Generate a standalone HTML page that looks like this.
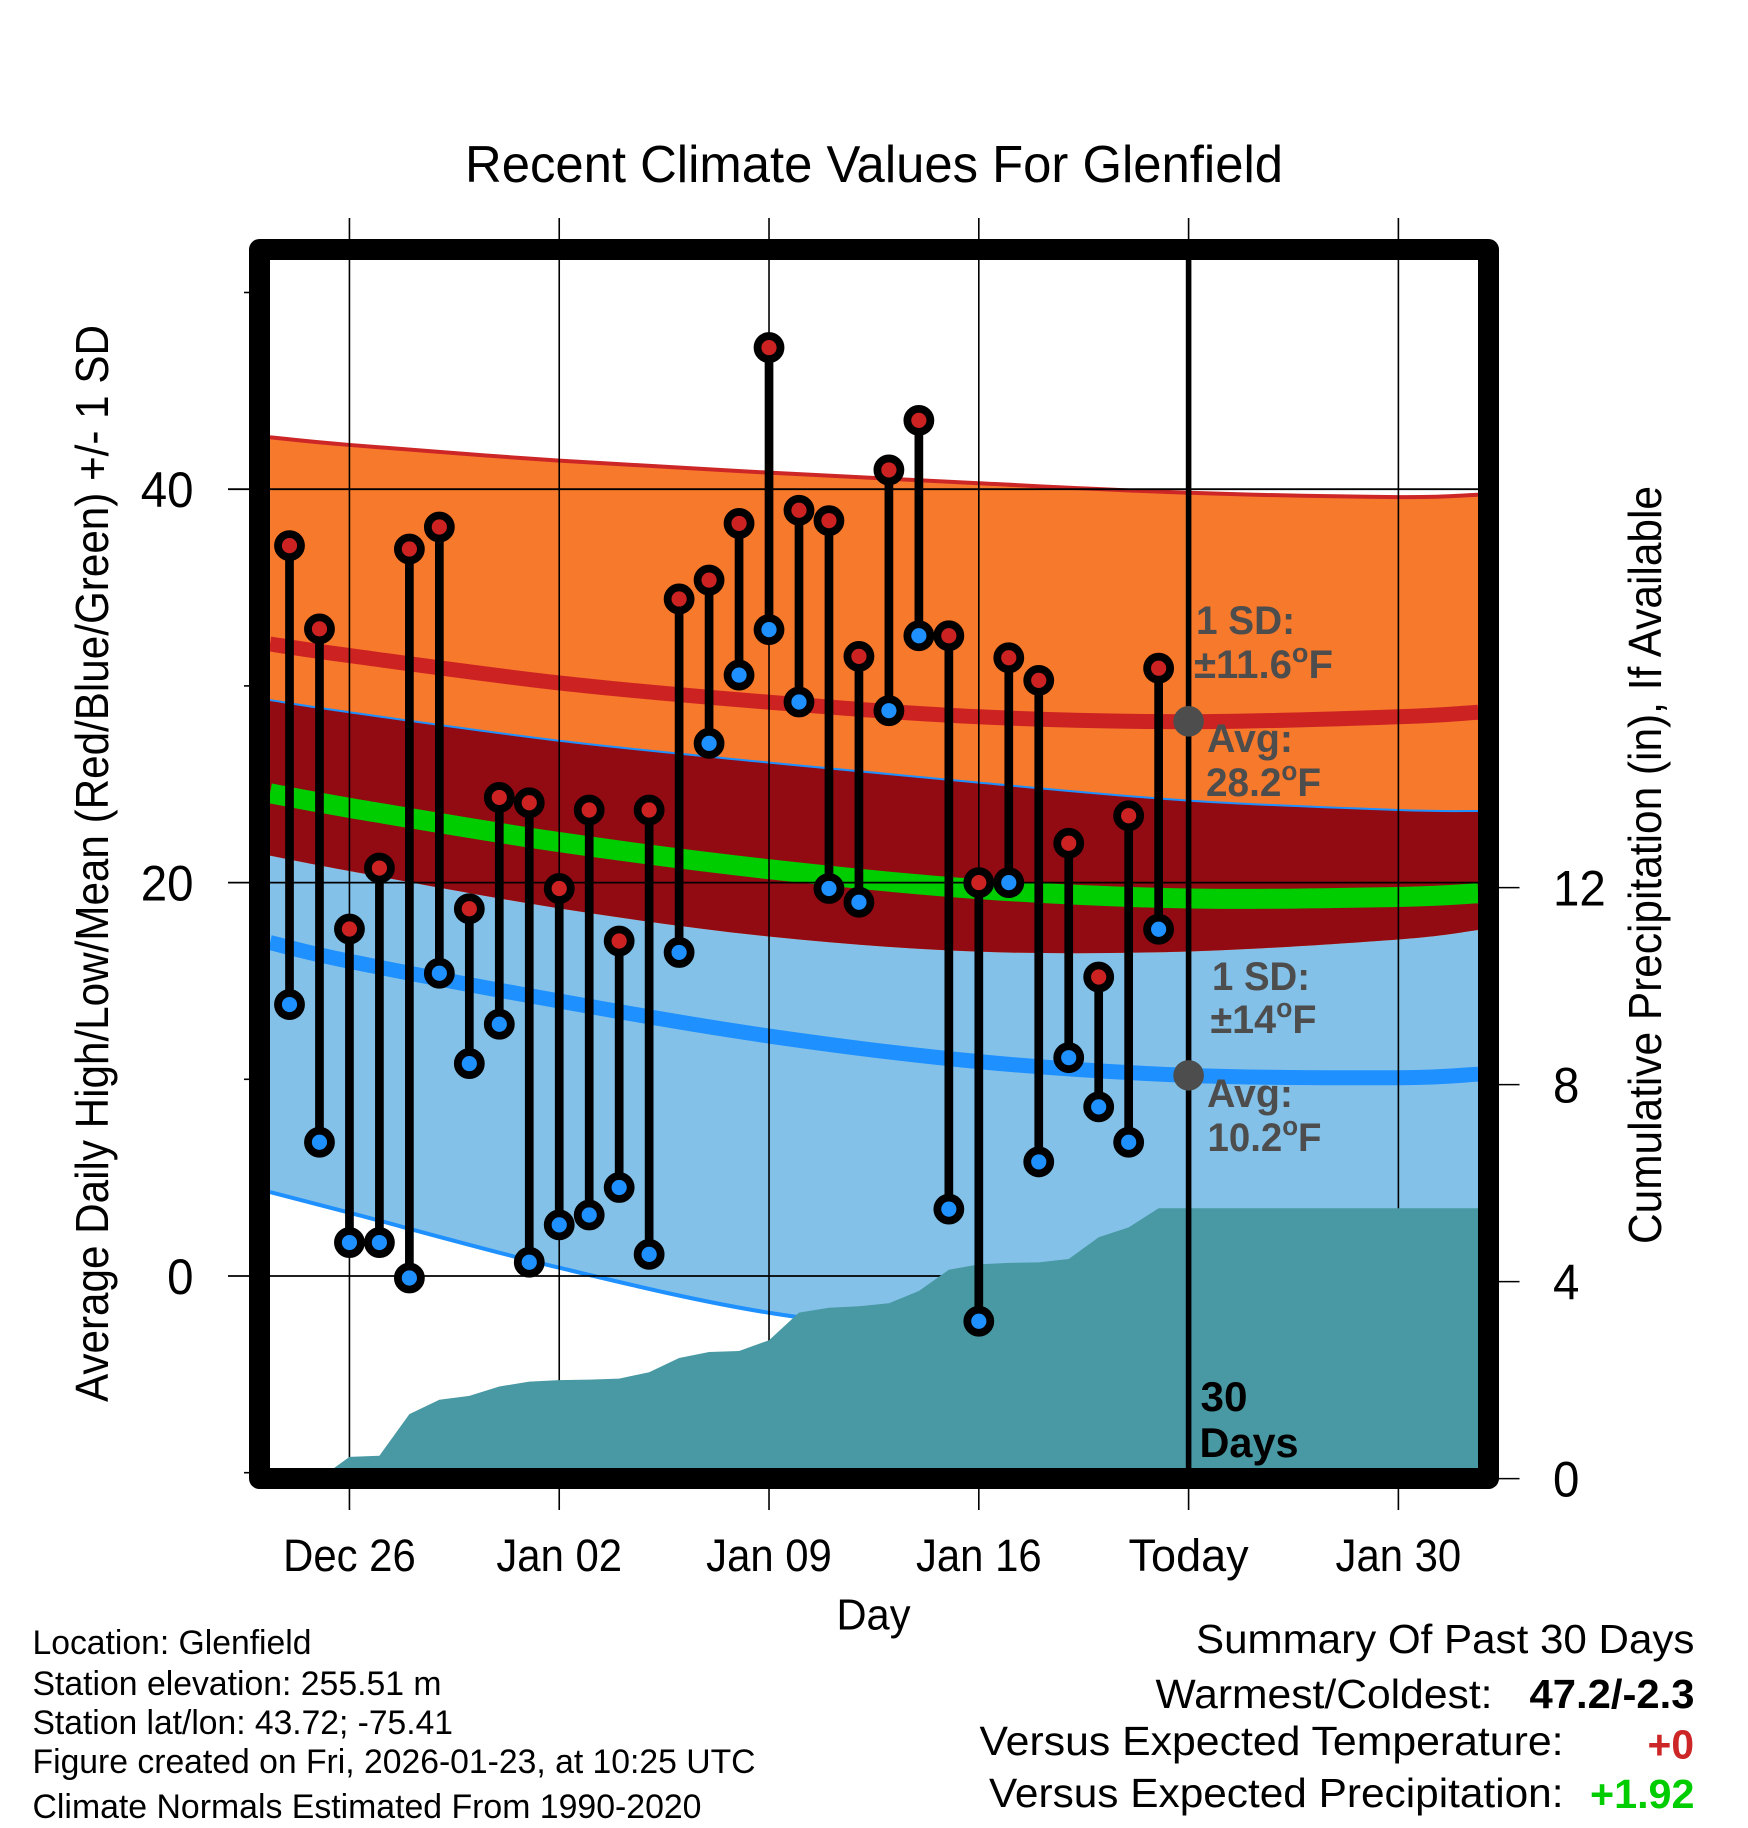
<!DOCTYPE html>
<html lang="en">
<head>
<meta charset="utf-8">
<title>Recent Climate Values For Glenfield</title>
<style>
html,body{margin:0;padding:0;background:#fff;}
svg{display:block;}
text{font-family:"Liberation Sans",Arial,sans-serif;fill:#000;}
.note{font-weight:bold;fill:#4d4d4d;font-size:40px;}
.foot{font-size:34px;}
.sum{font-size:41px;}
</style>
</head>
<body>
<svg xmlns="http://www.w3.org/2000/svg" id="chart" width="1748" height="1828" viewBox="0 0 1748 1828">
  <rect x="0" y="0" width="1748" height="1828" fill="#ffffff"/>
  <g id="marks"></g>

  <text x="465" y="182" font-size="52" textLength="818" lengthAdjust="spacingAndGlyphs">Recent Climate Values For Glenfield</text>
  <text transform="translate(108 1402) rotate(-90)" font-size="46" textLength="1077" lengthAdjust="spacingAndGlyphs">Average Daily High/Low/Mean (Red/Blue/Green) +/- 1 SD</text>
  <text transform="translate(1661 1244) rotate(-90)" font-size="46" textLength="758" lengthAdjust="spacingAndGlyphs">Cumulative Precipitation (in), If Available</text>
  <text x="836.5" y="1629.5" font-size="44" textLength="74" lengthAdjust="spacingAndGlyphs">Day</text>

  <g>
    <text class="note" x="1196" y="634" textLength="99" lengthAdjust="spacingAndGlyphs">1 SD:</text>
    <text class="note" x="1194" y="678" textLength="139" lengthAdjust="spacingAndGlyphs">±11.6<tspan dy="-16" font-size="27">o</tspan><tspan dy="16">F</tspan></text>
    <text class="note" x="1207" y="752" textLength="86" lengthAdjust="spacingAndGlyphs">Avg:</text>
    <text class="note" x="1206" y="796" textLength="115" lengthAdjust="spacingAndGlyphs">28.2<tspan dy="-16" font-size="27">o</tspan><tspan dy="16">F</tspan></text>
  </g>
  <g>
    <text class="note" x="1212" y="990" textLength="98" lengthAdjust="spacingAndGlyphs">1 SD:</text>
    <text class="note" x="1210.5" y="1033" textLength="106" lengthAdjust="spacingAndGlyphs">±14<tspan dy="-16" font-size="27">o</tspan><tspan dy="16">F</tspan></text>
    <text class="note" x="1207" y="1107" textLength="86" lengthAdjust="spacingAndGlyphs">Avg:</text>
    <text class="note" x="1207.5" y="1151" textLength="114" lengthAdjust="spacingAndGlyphs">10.2<tspan dy="-16" font-size="27">o</tspan><tspan dy="16">F</tspan></text>
  </g>
  <text x="1200.5" y="1411" font-size="42" font-weight="bold" textLength="47" lengthAdjust="spacingAndGlyphs">30</text>
  <text x="1199.5" y="1457" font-size="42" font-weight="bold" textLength="99" lengthAdjust="spacingAndGlyphs">Days</text>

  <g>
    <text class="foot" x="32.5" y="1654" textLength="279" lengthAdjust="spacingAndGlyphs">Location: Glenfield</text>
    <text class="foot" x="32.5" y="1695" textLength="409" lengthAdjust="spacingAndGlyphs">Station elevation: 255.51 m</text>
    <text class="foot" x="32.5" y="1734" textLength="420.5" lengthAdjust="spacingAndGlyphs">Station lat/lon: 43.72; -75.41</text>
    <text class="foot" x="32.5" y="1773" textLength="723" lengthAdjust="spacingAndGlyphs">Figure created on Fri, 2026-01-23, at 10:25 UTC</text>
    <text class="foot" x="32.5" y="1818" textLength="669" lengthAdjust="spacingAndGlyphs">Climate Normals Estimated From 1990-2020</text>
  </g>

  <g>
    <text class="sum" x="1196" y="1653" textLength="498.5" lengthAdjust="spacingAndGlyphs">Summary Of Past 30 Days</text>
    <text class="sum" x="1155.5" y="1708" textLength="337" lengthAdjust="spacingAndGlyphs">Warmest/Coldest:</text>
    <text class="sum" x="1529.5" y="1708" font-weight="bold" textLength="165" lengthAdjust="spacingAndGlyphs">47.2/-2.3</text>
    <text class="sum" x="979.5" y="1755" textLength="584" lengthAdjust="spacingAndGlyphs">Versus Expected Temperature:</text>
    <text class="sum" x="1647.5" y="1758.5" font-weight="bold" style="fill:#cd2626" textLength="46.5" lengthAdjust="spacingAndGlyphs">+0</text>
    <text class="sum" x="989" y="1807" textLength="574.5" lengthAdjust="spacingAndGlyphs">Versus Expected Precipitation:</text>
    <text class="sum" x="1590" y="1808" font-weight="bold" style="fill:#00cd00" textLength="104.5" lengthAdjust="spacingAndGlyphs">+1.92</text>
  </g>
</svg>
<script>
// ---------- Observed daily data (index 0 = Dec 24) ----------
const dayCategories = ['Dec 24','Dec 25','Dec 26','Dec 27','Dec 28','Dec 29','Dec 30','Dec 31','Jan 01','Jan 02','Jan 03','Jan 04','Jan 05','Jan 06','Jan 07','Jan 08','Jan 09','Jan 10','Jan 11','Jan 12','Jan 13','Jan 14','Jan 15','Jan 16','Jan 17','Jan 18','Jan 19','Jan 20','Jan 21','Jan 22'];
const dailyHigh = [37.13,32.9,17.64,20.74,36.96,38.08,18.67,24.33,24.06,19.7,23.69,17.03,23.69,34.42,35.38,38.26,47.2,38.93,38.4,31.5,40.98,43.5,32.55,20.0,31.43,30.28,22.0,15.2,23.4,30.9];
const dailyLow = [13.8,6.8,1.7,1.7,-0.1,15.39,10.8,12.8,0.7,2.6,3.1,4.5,1.1,16.45,27.08,30.55,32.86,29.18,19.7,19.0,28.74,32.55,3.4,-2.3,20.0,5.8,11.1,8.6,6.8,17.63];
const cumulativePrecip = [0,0,0.44,0.465,1.31,1.6,1.68,1.87,1.97,2.0,2.01,2.03,2.16,2.45,2.57,2.59,2.81,3.37,3.47,3.5,3.56,3.81,4.24,4.35,4.38,4.39,4.46,4.9,5.1,5.49];

// ---------- Climate normals, sampled on day offsets from Dec 24 ----------
const normalDays = [-0.65,2,9,16,23,30,37,39.66];
const highSdUpper = [42.64,42.25,41.45,40.84,40.3,39.82,39.6,39.72];
const highMean = [32.13,31.54,30.15,29.17,28.43,28.18,28.43,28.66];
const highSdLower = [21.37,20.59,18.69,17.26,16.49,16.5,17.11,17.59];
const lowSdUpper = [29.28,28.66,27.21,26.1,25.08,24.17,23.69,23.64];
const lowMean = [16.95,16.0,13.98,12.2,10.9,10.2,10.08,10.26];
const lowSdLower = [4.27,3.22,0.42,-1.87,-3.03,-3.8,-3.92,-3.74];
const meanOfMeans = [24.54,23.8,22.06,20.68,19.67,19.19,19.27,19.46];
const todayHighAvg = 28.2;
const todayLowAvg = 10.2;

// ---------- Axis ticks ----------
const dateTickDays = [2,9,16,23,30,37];
const dateTickLabels = ['Dec 26','Jan 02','Jan 09','Jan 16','Today','Jan 30'];
const tempMajorTicks = [0,20,40];
const tempMajorLabels = ['0','20','40'];
const tempMinorTicks = [-10,10,30,50];
const precipTicks = [0,4,8,12];
const precipLabels = ['0','4','8','12'];
const todayDay = 30;

// ---------- Axis functions ----------
const xDay = d => 289.5 + 29.97 * d;
const yTemp = v => 1276 - 19.67 * v;
const yPrecip = v => 1478.6 - 49.25 * v;
const LEFT = 270, RIGHT = 1478, TOP = 260, BOTTOM = 1468;

const NS = 'http://www.w3.org/2000/svg';
const root = document.getElementById('marks');
function make(tag, attrs, parent) {
  const el = document.createElementNS(NS, tag);
  for (const k in attrs) el.setAttribute(k, attrs[k]);
  (parent || root).appendChild(el);
  return el;
}
function points(values) {
  return normalDays.map((d, i) => [xDay(d), yTemp(values[i])]);
}
// Catmull-Rom smoothing through the sampled normals
function curve(pts, move) {
  let s = (move ? 'M' : 'L') + pts[0][0].toFixed(2) + ' ' + pts[0][1].toFixed(2);
  for (let i = 0; i < pts.length - 1; i++) {
    const p0 = pts[Math.max(i - 1, 0)], p1 = pts[i], p2 = pts[i + 1], p3 = pts[Math.min(i + 2, pts.length - 1)];
    const c1x = p1[0] + (p2[0] - p0[0]) / 6, c1y = p1[1] + (p2[1] - p0[1]) / 6;
    const c2x = p2[0] - (p3[0] - p1[0]) / 6, c2y = p2[1] - (p3[1] - p1[1]) / 6;
    s += 'C' + c1x.toFixed(2) + ' ' + c1y.toFixed(2) + ' ' + c2x.toFixed(2) + ' ' + c2y.toFixed(2) + ' ' + p2[0].toFixed(2) + ' ' + p2[1].toFixed(2);
  }
  return s;
}
function band(upper, lower) {
  return curve(points(upper), true) + curve(points(lower).reverse(), false) + 'Z';
}
function squeeze(el, ratio) {
  el.setAttribute('textLength', (el.getComputedTextLength() * ratio).toFixed(1));
  el.setAttribute('lengthAdjust', 'spacingAndGlyphs');
}

// ---------- Bands ----------
const lowBand = make('path', {d: band(lowSdUpper, lowSdLower), fill: '#83c1e9'});



const highBand = make('path', {d: band(highSdUpper, highSdLower), fill: '#f7792c'});



const overlapBand = make('path', {d: band(lowSdUpper, highSdLower), fill: '#920b12'});



const highTopLine = make('path', {d: curve(points(highSdUpper), true), fill: 'none', stroke: '#cd2626', 'stroke-width': 4});



const lowTopLine = make('path', {d: curve(points(lowSdUpper), true), fill: 'none', stroke: '#1e90ff', 'stroke-width': 2});



const lowBottomLine = make('path', {d: curve(points(lowSdLower), true), fill: 'none', stroke: '#1e90ff', 'stroke-width': 4});



const highMeanLine = make('path', {d: curve(points(highMean), true), fill: 'none', stroke: '#cd2222', 'stroke-width': 15});



const midMeanLine = make('path', {d: curve(points(meanOfMeans), true), fill: 'none', stroke: '#00cd00', 'stroke-width': 20});



const lowMeanLine = make('path', {d: curve(points(lowMean), true), fill: 'none', stroke: '#1e90ff', 'stroke-width': 15});



// ---------- Grid and ticks ----------
dateTickDays.forEach((d, i) => {
  const x = xDay(d);
  const grid = make('line', {x1: x, x2: x, y1: 218, y2: 1510, stroke: '#000', 'stroke-width': 1.6});
  
  
  const label = make('text', {x: x, y: 1571, 'font-size': 45, 'text-anchor': 'middle'});
  label.textContent = dateTickLabels[i];
  
  
  squeeze(label, d === todayDay ? 1.0 : 0.93);
});
tempMajorTicks.forEach((v, i) => {
  const y = yTemp(v);
  const grid = make('line', {x1: 228, x2: RIGHT, y1: y, y2: y, stroke: '#000', 'stroke-width': 1.8});
  
  
  const label = make('text', {x: 193.5, y: y + 18, 'font-size': 50, 'text-anchor': 'end'});
  label.textContent = tempMajorLabels[i];
  
  
  squeeze(label, 0.95);
});
tempMinorTicks.forEach(v => {
  const y = yTemp(v);
  const tick = make('line', {x1: 244, x2: 260, y1: y, y2: y, stroke: '#000', 'stroke-width': 1.6});
  
  
});
precipTicks.forEach((v, i) => {
  const y = yPrecip(v);
  const tick = make('line', {x1: 1490, x2: 1519.5, y1: y, y2: y, stroke: '#000', 'stroke-width': 1.5});
  
  
  const label = make('text', {x: 1553, y: y + 18, 'font-size': 50});
  label.textContent = precipLabels[i];
  
  
  squeeze(label, 0.95);
});

// ---------- Cumulative precipitation area ----------
let precipPath = 'M' + xDay(0).toFixed(2) + ' ' + yPrecip(0).toFixed(2);
cumulativePrecip.forEach((v, i) => {
  precipPath += 'L' + xDay(i).toFixed(2) + ' ' + yPrecip(v).toFixed(2);
});
precipPath += 'L' + RIGHT + ' ' + yPrecip(cumulativePrecip[cumulativePrecip.length - 1]).toFixed(2);
precipPath += 'L' + RIGHT + ' ' + yPrecip(0).toFixed(2) + 'Z';
const precipArea = make('path', {d: precipPath, fill: '#4899a3'});



// ---------- Today line ----------
const todayLine = make('line', {x1: xDay(todayDay), x2: xDay(todayDay), y1: TOP, y2: BOTTOM, stroke: '#000', 'stroke-width': 5.6});



// ---------- Daily stems and markers ----------
dailyHigh.forEach((hi, i) => {
  const x = xDay(i);
  const stem = make('line', {x1: x, x2: x, y1: yTemp(hi), y2: yTemp(dailyLow[i]), stroke: '#000', 'stroke-width': 8.7});
  
  
});
dailyHigh.forEach((hi, i) => {
  const x = xDay(i);
  const high = make('circle', {cx: x, cy: yTemp(hi), r: 11.5, fill: '#cd2222', stroke: '#000', 'stroke-width': 7.8});
  
  
  const low = make('circle', {cx: x, cy: yTemp(dailyLow[i]), r: 11.5, fill: '#1e90ff', stroke: '#000', 'stroke-width': 7.8});
  
  
});

// ---------- Today's normal dots ----------
const highDot = make('circle', {cx: xDay(todayDay), cy: yTemp(todayHighAvg), r: 15.3, fill: '#4d4d4d'});


const lowDot = make('circle', {cx: xDay(todayDay), cy: yTemp(todayLowAvg), r: 15.3, fill: '#4d4d4d'});



// ---------- Plot frame ----------
const frame = make('rect', {x: LEFT - 10.5, y: TOP - 10.5, width: RIGHT - LEFT + 21, height: BOTTOM - TOP + 21, fill: 'none', stroke: '#000', 'stroke-width': 21, 'stroke-linejoin': 'round'});


</script>
</body>
</html>
